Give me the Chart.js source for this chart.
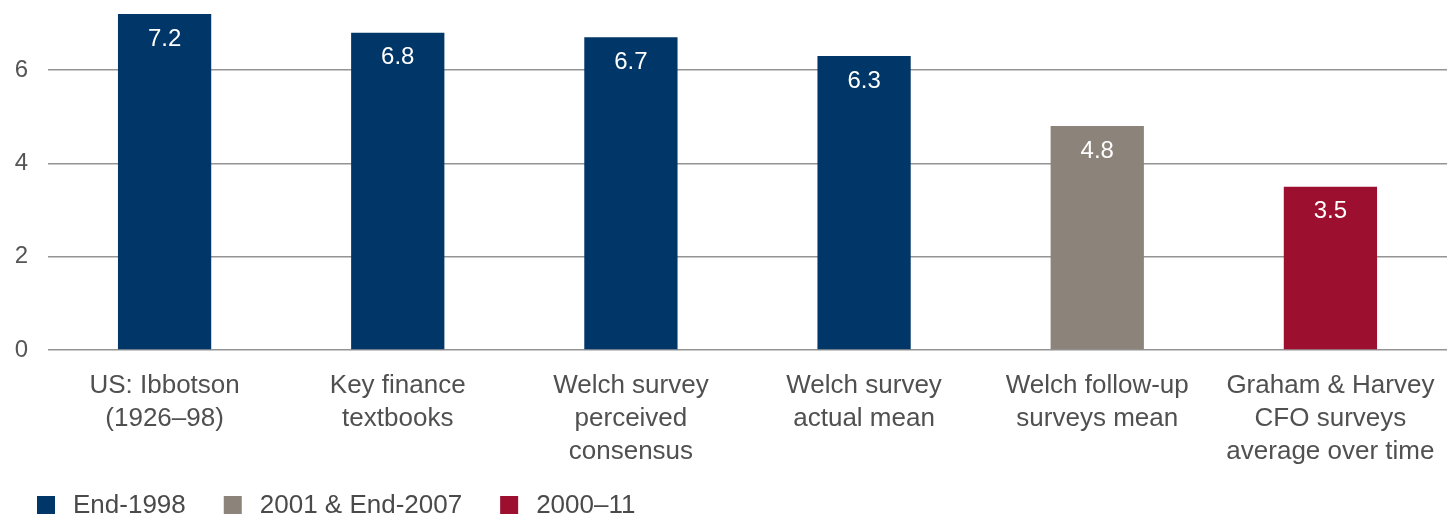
<!DOCTYPE html>
<html>
<head>
<meta charset="utf-8">
<script src="https://cdn.jsdelivr.net/npm/chart.js@4.4.1/dist/chart.umd.min.js"></script>
<style>
  html, body { margin: 0; padding: 0; background: #fff; }
  #wrap { width: 1447px; height: 516px; position: relative; }
</style>
</head>
<body>
<div id="wrap"><canvas id="premiumChart"></canvas></div>
<script>
const categories = [
  ["US: Ibbotson", "(1926\u201398)"],
  ["Key finance", "textbooks"],
  ["Welch survey", "perceived", "consensus"],
  ["Welch survey", "actual mean"],
  ["Welch follow-up", "surveys mean"],
  ["Graham & Harvey", "CFO surveys", "average over time"]
];
const premiumValues = [7.2, 6.8, 6.7, 6.3, 4.8, 3.5];
const periodOfBar = [0, 0, 0, 0, 1, 2];
const periodLabels = ["End-1998", "2001 & End-2007", "2000\u201311"];
const periodColors = ["#003768", "#8c837a", "#9c0f2e"];
const yTicks = [0, 2, 4, 6];

const fontFamily = "'Liberation Sans', Arial, Helvetica, sans-serif";

// value label inside the top of each bar
const barValueLabels = {
  id: "barValueLabels",
  afterDatasetsDraw(chart) {
    const ctx = chart.ctx;
    const meta = chart.getDatasetMeta(0);
    ctx.save();
    ctx.fillStyle = "#ffffff";
    ctx.font = "24px " + fontFamily;
    ctx.textAlign = "center";
    ctx.textBaseline = "middle";
    meta.data.forEach((bar, i) => {
      ctx.fillText(premiumValues[i].toFixed(1), bar.x, bar.y + 25);
    });
    ctx.restore();
  }
};

// legend row along the bottom left, square swatches
const periodLegend = {
  id: "periodLegend",
  afterDraw(chart) {
    const ctx = chart.ctx;
    const box = 18;
    const cy = chart.height - 11;
    let x = 37;
    ctx.save();
    ctx.font = "26px " + fontFamily;
    ctx.textBaseline = "middle";
    ctx.textAlign = "left";
    periodLabels.forEach((text, i) => {
      ctx.fillStyle = periodColors[i];
      ctx.fillRect(x, cy - box / 2, box, box);
      x += box + 18;
      ctx.fillStyle = "#4a4a4a";
      ctx.fillText(text, x, cy + 1);
      x += ctx.measureText(text).width + 38;
    });
    ctx.restore();
  }
};

const chartCanvas = document.getElementById("premiumChart");

new Chart(chartCanvas, {
  type: "bar",
  data: {
    labels: categories,
    datasets: [{
      data: premiumValues,
      backgroundColor: periodOfBar.map((p) => periodColors[p]),
      borderWidth: 0,
      barPercentage: 0.4,
      categoryPercentage: 1
    }]
  },
  options: {
    responsive: true,
    maintainAspectRatio: false,
    animation: false,
    layout: { padding: 0 },
    plugins: {
      tooltip: { enabled: false },
      legend: { display: false }
    },
    scales: {
      x: {
        grid: { display: false, drawTicks: false },
        border: { display: false },
        ticks: {
          color: "#505050",
          padding: 19,
          maxRotation: 0,
          autoSkip: false,
          font: { size: 26, family: fontFamily, lineHeight: 1.27 }
        },
        afterFit: (scale) => {
          scale.height = 166;
          scale.paddingLeft = 0;
          scale.paddingRight = 0;
        }
      },
      y: {
        min: 0,
        max: 7.5,
        afterBuildTicks: (scale) => {
          scale.ticks = yTicks.map((v) => ({ value: v }));
        },
        afterFit: (scale) => {
          scale.width = 48;
          scale.paddingTop = 0;
          scale.paddingBottom = 0;
        },
        grid: { color: "#949494", lineWidth: 1.5, drawTicks: false },
        border: { display: false },
        ticks: {
          color: "#555",
          padding: 20,
          font: { size: 24, family: fontFamily }
        }
      }
    }
  },
  plugins: [barValueLabels, periodLegend]
});
</script>
</body>
</html>
